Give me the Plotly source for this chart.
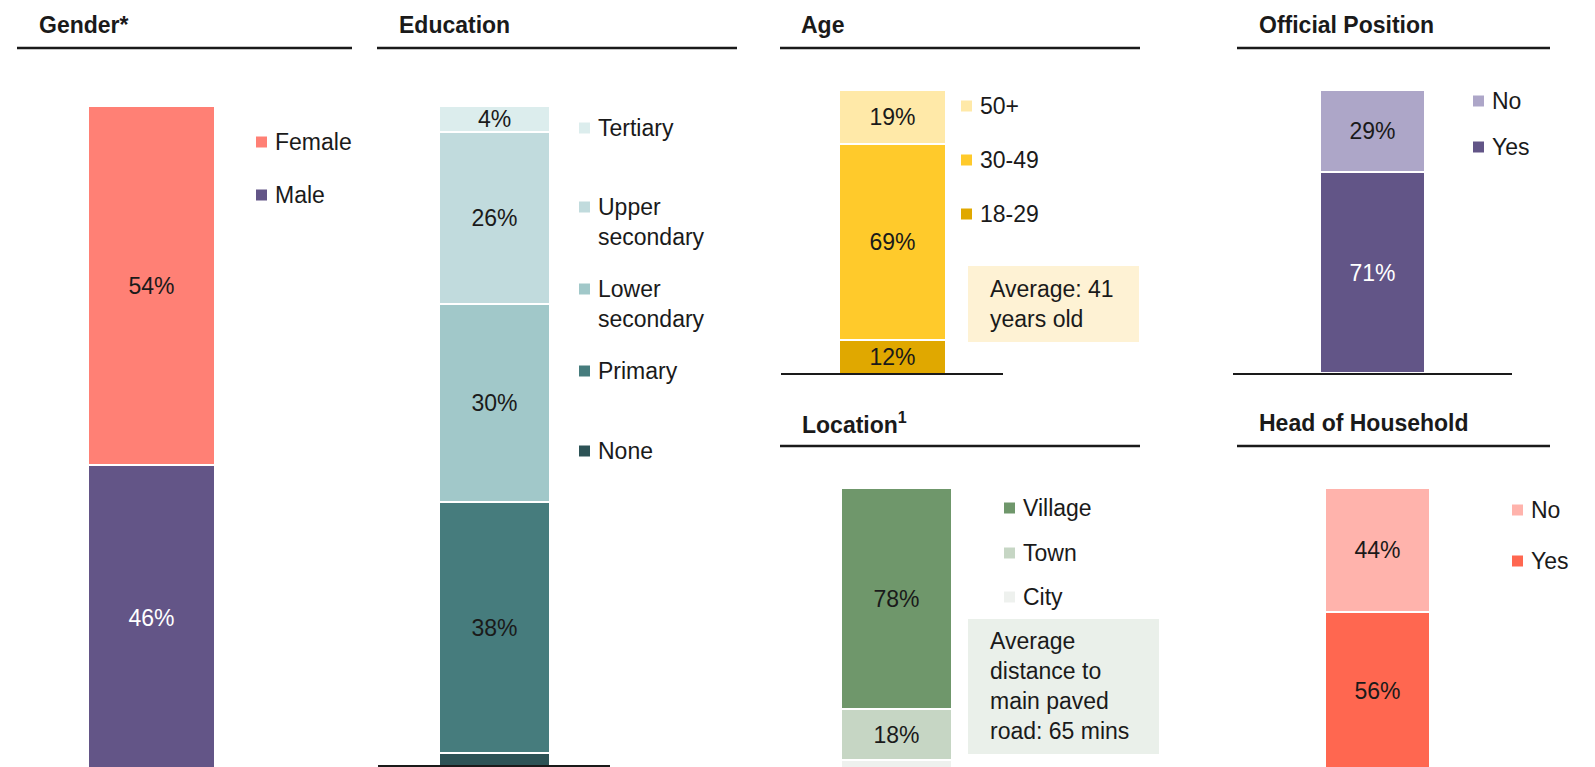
import plotly.graph_objects as go

# The page body adds an 8px margin, so the figure is drawn from (8, 8).
OFF = 8
SCREEN_W, SCREEN_H = 1595, 767
W, H = SCREEN_W - OFF, SCREEN_H - OFF
FONT = "Liberation Sans, Arial, Helvetica, sans-serif"
INK = "#1a1a1a"

# ---------------- data ----------------
gender_categories = ["Male", "Female"]
gender_values = [46, 54]

education_categories = ["None", "Primary", "Lower secondary", "Upper secondary", "Tertiary"]
education_values = [2, 38, 30, 26, 4]

age_categories = ["18-29", "30-49", "50+"]
age_values = [12, 69, 19]

official_categories = ["Yes", "No"]
official_values = [71, 29]

location_categories = ["City", "Town", "Village"]
location_values = [4, 18, 78]

head_categories = ["Yes", "No"]
head_values = [56, 44]

titles = ["Gender*", "Education", "Age", "Official Position", "Location<sup>1</sup>", "Head of Household"]
age_note = "Average: 41<br>years old"
location_note = "Average<br>distance to<br>main paved<br>road: 65 mins"

# ---------------- styling / layout (screen pixel positions) ----------------
panels = [
    dict(cats=gender_categories, vals=gender_values,
         colors=["#635587", "#FF8075"], textcolors=["white", INK], hide=[],
         x0=88, x1=215, top=106, bottom=771,
         rule=(17, 352, 48), title_xy=(37, 25), base=None,
         leg_x=256, leg_y=[195, 142], leg_labels=None),
    dict(cats=education_categories, vals=education_values,
         colors=["#2D5356", "#467C7D", "#A1C8C9", "#C1DBDD", "#DCEDED"],
         textcolors=[INK, INK, INK, INK, INK], hide=["None"],
         x0=439, x1=550, top=106, bottom=766,
         rule=(377, 737, 48), title_xy=(397, 25), base=(378, 610, 766),
         leg_x=579, leg_y=[451, 371, 289, 207, 128],
         leg_labels=["None", "Primary", "Lower<br>secondary", "Upper<br>secondary", "Tertiary"]),
    dict(cats=age_categories, vals=age_values,
         colors=["#E0A800", "#FFCA2B", "#FFE9A8"], textcolors=[INK, INK, INK], hide=[],
         x0=839, x1=946, top=90, bottom=374,
         rule=(780, 1140, 48), title_xy=(799, 25), base=(781, 1003, 374),
         leg_x=961, leg_y=[214, 160, 106], leg_labels=None),
    dict(cats=official_categories, vals=official_values,
         colors=["#625587", "#ADA6C8"], textcolors=["white", INK], hide=[],
         x0=1320, x1=1425, top=90, bottom=373,
         rule=(1237, 1550, 48), title_xy=(1257, 25), base=(1233, 1512, 374),
         leg_x=1473, leg_y=[147, 101], leg_labels=None),
    dict(cats=location_categories, vals=location_values,
         colors=["#EEF1EE", "#C6D6C4", "#6F976B"], textcolors=[INK, INK, INK], hide=["City"],
         x0=841, x1=952, top=488, bottom=771,
         rule=(780, 1140, 446), title_xy=(800, 423), base=None,
         leg_x=1004, leg_y=[597, 553, 508], leg_labels=None),
    dict(cats=head_categories, vals=head_values,
         colors=["#FF6750", "#FFB3AC"], textcolors=[INK, INK], hide=[],
         x0=1325, x1=1430, top=488, bottom=770,
         rule=(1237, 1550, 446), title_xy=(1257, 423), base=None,
         leg_x=1512, leg_y=[561, 510], leg_labels=None),
]


def fx(p):
    return (p - OFF) / W


def fy(p):
    return 1 - (p - OFF) / H


fig = go.Figure()
shapes = []
annotations = []
layout_axes = {}

for i, p in enumerate(panels):
    ax = "" if i == 0 else str(i + 1)
    scale = (p["bottom"] - p["top"]) / 100.0
    dom_bottom = min(p["bottom"], SCREEN_H)
    low = 100 - (dom_bottom - p["top"]) / scale
    for cat, val, col, tc in zip(p["cats"], p["vals"], p["colors"], p["textcolors"]):
        bar_kwargs = dict(
            x=[0], y=[val], name=cat, width=1,
            marker=dict(color=col, line=dict(color="white", width=2)),
            xaxis="x" + ax, yaxis="y" + ax, showlegend=False, hoverinfo="skip",
        )
        if cat not in p["hide"]:
            bar_kwargs.update(
                text=[f"{val}%"], textposition="inside", insidetextanchor="middle",
                textangle=0, constraintext="none",
                textfont=dict(color=tc, size=23, family=FONT),
            )
        else:
            bar_kwargs.update(textposition="none")
        fig.add_trace(go.Bar(**bar_kwargs))
    layout_axes["xaxis" + ax] = dict(domain=[fx(p["x0"]), fx(p["x1"])], range=[-0.5, 0.5],
                                     visible=False, fixedrange=True)
    layout_axes["yaxis" + ax] = dict(domain=[fy(dom_bottom), fy(p["top"])], range=[low, 100],
                                     visible=False, fixedrange=True)

    # title + rule
    tx, ty = p["title_xy"]
    annotations.append(dict(x=fx(tx), y=fy(ty), xref="paper", yref="paper", xanchor="left",
                            yanchor="middle", showarrow=False, text=f"<b>{titles[i]}</b>",
                            font=dict(size=23, family=FONT, color=INK)))
    rx0, rx1, ry = p["rule"]
    shapes.append(dict(type="line", xref="paper", yref="paper", x0=fx(rx0), x1=fx(rx1),
                       y0=fy(ry), y1=fy(ry), line=dict(color=INK, width=2.5)))
    if p["base"]:
        bx0, bx1, by = p["base"]
        shapes.append(dict(type="line", xref="paper", yref="paper", x0=fx(bx0), x1=fx(bx1),
                           y0=fy(by), y1=fy(by), line=dict(color=INK, width=2)))

    # legend
    labels = p["leg_labels"] or p["cats"]
    for lab, col, ly in zip(labels, p["colors"], p["leg_y"]):
        shapes.append(dict(type="rect", xref="paper", yref="paper",
                           x0=fx(p["leg_x"]), x1=fx(p["leg_x"] + 11),
                           y0=fy(ly + 5.5), y1=fy(ly - 5.5),
                           fillcolor=col, line=dict(width=0)))
        annotations.append(dict(x=fx(p["leg_x"] + 17), y=fy(ly - 15), xref="paper", yref="paper",
                                xanchor="left", yanchor="top", align="left", showarrow=False,
                                text=lab, font=dict(size=23, family=FONT, color=INK)))

# note boxes
shapes.append(dict(type="rect", xref="paper", yref="paper", x0=fx(968), x1=fx(1139),
                   y0=fy(342), y1=fy(266), fillcolor="#FEF2D4", line=dict(width=0), layer="below"))
annotations.append(dict(x=fx(988), y=fy(304), xref="paper", yref="paper", xanchor="left",
                        yanchor="middle", align="left", showarrow=False, text=age_note,
                        font=dict(size=23, family=FONT, color=INK)))
shapes.append(dict(type="rect", xref="paper", yref="paper", x0=fx(968), x1=fx(1159),
                   y0=fy(754), y1=fy(619), fillcolor="#EAF0EA", line=dict(width=0), layer="below"))
annotations.append(dict(x=fx(988), y=fy(686), xref="paper", yref="paper", xanchor="left",
                        yanchor="middle", align="left", showarrow=False, text=location_note,
                        font=dict(size=23, family=FONT, color=INK)))

fig.update_layout(
    width=W, height=H, autosize=False,
    margin=dict(l=0, r=0, t=0, b=0),
    paper_bgcolor="white", plot_bgcolor="rgba(0,0,0,0)",
    barmode="stack", bargap=0,
    shapes=shapes, annotations=annotations,
    font=dict(family=FONT, size=23, color=INK),
    **layout_axes,
)

fig.write_html("out.html")
